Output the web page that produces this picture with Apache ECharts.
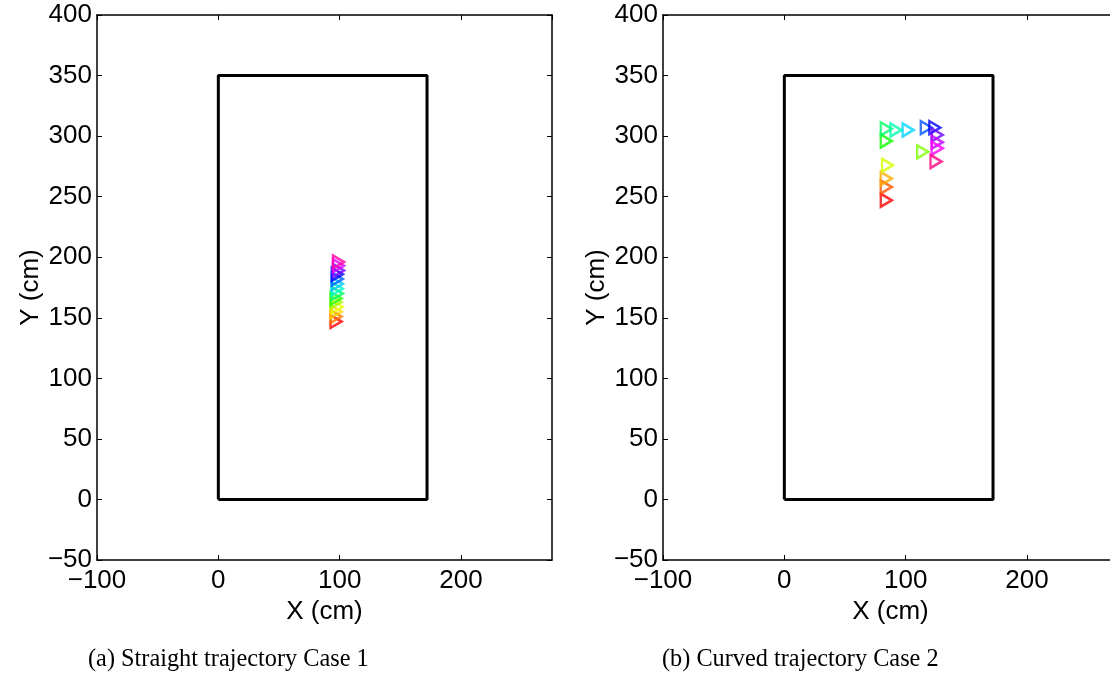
<!DOCTYPE html>
<html>
<head>
<meta charset="utf-8">
<script src="https://cdn.jsdelivr.net/npm/echarts@6/dist/echarts.min.js"></script>
<style>
html,body{margin:0;padding:0;background:#fff;overflow:hidden;}
#c{width:1120px;height:681px;}
</style>
</head>
<body>
<div id="c"></div>
<script>
// ---- data ----
var roomX = [0, 0, 172, 172, 0];
var roomY = [0, 350, 350, 0, 0];

var case1X = [97, 97, 97, 98, 97, 97, 98, 98, 98, 98, 98, 99, 99, 99];
var case1Y = [147, 151, 155, 159, 163, 166, 170, 174, 178, 182, 186, 189, 193, 196];

var case2X = [84, 84, 84, 85, 114, 84, 84, 92, 102, 117, 124, 126, 126, 126, 125];
var case2Y = [247, 258, 265, 276, 287, 296, 306, 305, 305, 307, 307, 301, 295, 290, 279];

var xTicks = [-100, 0, 100, 200];
var yTicks = [-50, 0, 50, 100, 150, 200, 250, 300, 350, 400];

var captions = ['(a) Straight trajectory Case 1', '(b) Curved trajectory Case 2'];
var xName = 'X (cm)';
var yName = 'Y (cm)';

// ---- styles ----
var case1Colors = ['#ff0000', '#ff7700', '#ffd400', '#eaff00', '#9dff00', '#22ff00', '#00ff62', '#00ffd0', '#00c4ff', '#0062ff', '#0a00ff', '#7700ff', '#e100ff', '#ff00a6'];
var case2Colors = ['#ff0000', '#ff5500', '#ffaa00', '#d4ff00', '#80ff00', '#0dff00', '#00ff6a', '#00ffb0', '#00d4ff', '#0055ff', '#0000ff', '#6a00ff', '#bf00ff', '#ff00ff', '#ff0080'];

var FONT = 'Liberation Sans, Arial, Helvetica, sans-serif';
function fmt(v) {
  if (yTicks.indexOf(v) < 0) return '';
  return String(v).replace('-', '\u2212');
}
function fmtX(v) {
  if (xTicks.indexOf(v) < 0) return '';
  return String(v).replace('-', '\u2212');
}

var grids = [
  {left: 97, top: 15, width: 455, height: 545},
  {left: 663, top: 15, width: 455, height: 545}
];

var xAxes = [], yAxes = [];
grids.forEach(function (g, gi) {
  var base = {
    gridIndex: gi, type: 'value', min: -100, max: 275, interval: 100,
    splitLine: {show: false},
    axisLine: {show: true, onZero: false, lineStyle: {color: '#000', width: 1.5}},
    axisTick: {show: true, inside: true, length: 5, lineStyle: {color: '#000', width: 1}}
  };
  xAxes.push(Object.assign({}, base, {
    position: 'bottom',
    name: xName, nameLocation: 'middle', nameGap: 37,
    nameTextStyle: {fontFamily: FONT, fontSize: 26, color: '#000'},
    axisLabel: {show: true, formatter: fmtX, fontFamily: FONT, fontSize: 26, color: '#000', margin: 8, showMaxLabel: false}
  }));
  xAxes.push(Object.assign({}, base, {position: 'top', axisLabel: {show: false}}));
  var ybase = {
    gridIndex: gi, type: 'value', min: -50, max: 400, interval: 50,
    splitLine: {show: false},
    axisLine: {show: true, onZero: false, lineStyle: {color: '#000', width: 1.5}},
    axisTick: {show: true, inside: true, length: 5, lineStyle: {color: '#000', width: 1}}
  };
  yAxes.push(Object.assign({}, ybase, {
    position: 'left',
    name: yName, nameLocation: 'middle', nameGap: 53,
    nameTextStyle: {fontFamily: FONT, fontSize: 26, color: '#000'},
    axisLabel: {show: true, formatter: fmt, fontFamily: FONT, fontSize: 26, color: '#000', margin: 5}
  }));
  yAxes.push(Object.assign({}, ybase, {position: 'right', axisLabel: {show: false}}));
});

function pts(xs, ys, cols) {
  return xs.map(function (x, i) {
    return {value: [x, ys[i]], itemStyle: {borderColor: cols[i]}};
  });
}
function room() {
  return roomX.map(function (x, i) { return [x, roomY[i]]; });
}

var series = [];
[[case1X, case1Y, case1Colors], [case2X, case2Y, case2Colors]].forEach(function (d, gi) {
  series.push({
    type: 'line', xAxisIndex: gi * 2, yAxisIndex: gi * 2,
    data: room(), showSymbol: false, symbol: 'none',
    lineStyle: {color: '#000', width: 3}, silent: true, animation: false
  });
  series.push({
    type: 'scatter', xAxisIndex: gi * 2, yAxisIndex: gi * 2,
    data: pts(d[0], d[1], d[2]),
    symbol: 'triangle', symbolSize: [13, 11], symbolRotate: -90,
    itemStyle: {color: 'rgba(0,0,0,0)', borderWidth: 2.5},
    animation: false
  });
});

var chart = echarts.init(document.getElementById('c'), null, {renderer: 'canvas'});
chart.setOption({
  backgroundColor: '#fff',
  animation: false,
  grid: grids,
  xAxis: xAxes,
  yAxis: yAxes,
  series: series,
  graphic: [
    {type: 'text', left: 88, top: 648, style: {text: captions[0], font: '24.3px "Liberation Serif", "DejaVu Serif", serif', fill: '#000'}},
    {type: 'text', left: 662, top: 648, style: {text: captions[1], font: '24.3px "Liberation Serif", "DejaVu Serif", serif', fill: '#000'}}
  ]
});
</script>
</body>
</html>
